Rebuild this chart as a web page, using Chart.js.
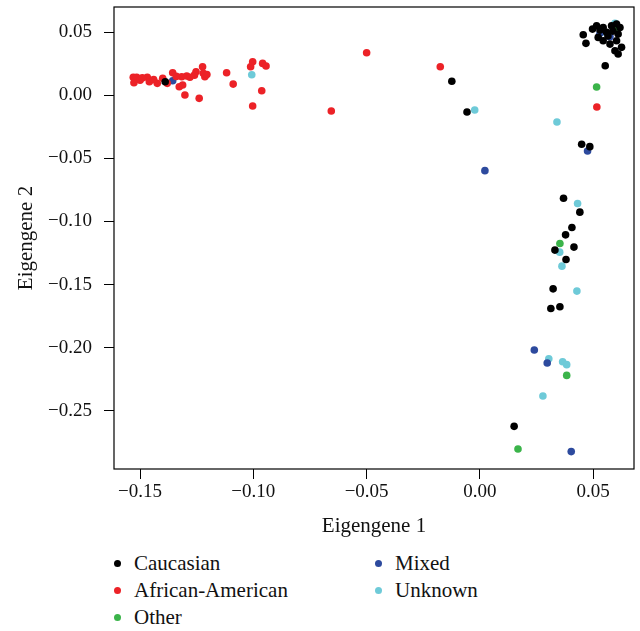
<!DOCTYPE html>
<html>
<head>
<meta charset="utf-8">
<script src="https://cdn.jsdelivr.net/npm/chart.js@4.4.1/dist/chart.umd.min.js"></script>
<style>
    html, body { margin: 0; padding: 0; background: #fff; }
    #wrap { position: relative; width: 640px; height: 631px; }
    #chart-box { position: absolute; left: 0; top: 0; width: 640px; height: 545px; }
    #legend { position: absolute; left: 0; top: 550px; width: 640px; height: 81px; font-family: "Liberation Serif", serif; font-size: 21px; color: #111; }
    .legend__item { position: absolute; display: flex; align-items: center; height: 27px; white-space: nowrap; }
    .legend__dot { width: 7px; height: 7px; border-radius: 50%; margin-right: 13px; }
</style>
</head>
<body>
<div id="wrap">
    <div id="chart-box"><canvas id="chart"></canvas></div>
    <div id="legend"></div>
</div>
<script>
// points as [eigengene 1, eigengene 2]
const caucasian = [
    [-0.1389, 0.0108], [-0.0124, 0.0111], [-0.0057, -0.0132],
    [0.0456, 0.0480], [0.0468, 0.0412], [0.0497, 0.0525], [0.0515, 0.0551], [0.0544, 0.0538],
    [0.0559, 0.0499], [0.0581, 0.0551], [0.0603, 0.0565], [0.0618, 0.0538], [0.0610, 0.0485],
    [0.0603, 0.0432], [0.0574, 0.0406], [0.0544, 0.0432], [0.0522, 0.0459], [0.0596, 0.0353],
    [0.0610, 0.0327], [0.0625, 0.0380], [0.0530, 0.0517], [0.0565, 0.0470], [0.0587, 0.0509],
    [0.0553, 0.0234], [0.0449, -0.0388], [0.0485, -0.0407], [0.0369, -0.0816], [0.0441, -0.0926],
    [0.0406, -0.1048], [0.0378, -0.1106], [0.0415, -0.1203], [0.0331, -0.1227], [0.0380, -0.1302],
    [0.0323, -0.1534], [0.0313, -0.1690], [0.0353, -0.1676], [0.0151, -0.2624]
];
const africanAmerican = [
    [-0.1530, 0.0143], [-0.1515, 0.0143], [-0.1527, 0.0100], [-0.1468, 0.0143], [-0.1459, 0.0108],
    [-0.1424, 0.0095], [-0.1400, 0.0135], [-0.1380, 0.0095], [-0.1356, 0.0179], [-0.1316, 0.0147],
    [-0.1294, 0.0153], [-0.1280, 0.0143], [-0.1327, 0.0068], [-0.1312, 0.0082], [-0.1302, 0.0002],
    [-0.1253, 0.0187], [-0.1224, 0.0226], [-0.1214, 0.0147], [-0.1221, 0.0174], [-0.1239, -0.0024],
    [-0.1118, 0.0179], [-0.1089, 0.0089], [-0.1012, 0.0226], [-0.1003, 0.0266], [-0.0959, 0.0253],
    [-0.0944, 0.0232], [-0.0963, 0.0036], [-0.1003, -0.0085], [-0.0500, 0.0337], [-0.0175, 0.0226],
    [-0.0656, -0.0124], [0.0516, -0.0093], [-0.1500, 0.0120], [-0.1490, 0.0138], [-0.1440, 0.0125],
    [-0.1340, 0.0150], [-0.1260, 0.0160], [-0.1205, 0.0165]
];
const other = [
    [0.0515, 0.0066], [0.0596, 0.0530], [0.0353, -0.1175], [0.0383, -0.2220], [0.0168, -0.2803]
];
const mixed = [
    [-0.1356, 0.0116], [0.0022, -0.0597], [0.0530, 0.0491], [0.0574, 0.0464], [0.0475, -0.0441],
    [0.0240, -0.2019], [0.0297, -0.2122], [0.0403, -0.2824]
];
const unknown = [
    [-0.1007, 0.0163], [-0.0023, -0.0116], [0.0596, 0.0570], [0.0537, 0.0499], [0.0340, -0.0211],
    [0.0431, -0.0858], [0.0352, -0.1243], [0.0362, -0.1354], [0.0428, -0.1552], [0.0304, -0.2088],
    [0.0365, -0.2112], [0.0383, -0.2135], [0.0278, -0.2383]
];

const groupNames = ["Caucasian", "African-American", "Other", "Mixed", "Unknown"];
const groupColors = ["#000000", "#EC2227", "#3BB44A", "#2D4A9E", "#6ECAD8"];
const groupPoints = [caucasian, africanAmerican, other, mixed, unknown];

const xTicks = [-0.15, -0.10, -0.05, 0.00, 0.05];
const yTicks = [0.05, 0.00, -0.05, -0.10, -0.15, -0.20, -0.25];

const serif = "'Liberation Serif', serif";

function fmt(v) {
    const s = Math.abs(v).toFixed(2);
    return (v < -1e-9 ? "\u2212" : "") + s;
}

// R style box around the plot area
const boxPlugin = {
    id: "box",
    afterDraw(chart) {
        const { ctx, chartArea } = chart;
        ctx.save();
        ctx.strokeStyle = "#000";
        ctx.lineWidth = 1.2;
        ctx.strokeRect(chartArea.left, chartArea.top, chartArea.right - chartArea.left, chartArea.bottom - chartArea.top);
        ctx.restore();
    }
};

const datasets = groupNames.map((name, i) => ({
    label: name,
    data: groupPoints[i].map(p => ({ x: p[0], y: p[1] })),
    backgroundColor: groupColors[i],
    borderWidth: 0,
    pointRadius: 3.8,
    pointHoverRadius: 3.8
}));

new Chart(document.getElementById("chart"), {
    type: "scatter",
    data: { datasets },
    options: {
        responsive: true,
        maintainAspectRatio: false,
        animation: false,
        layout: { padding: { top: 7, right: 6, left: 0, bottom: 0 } },
        plugins: { legend: { display: false }, tooltip: { enabled: false } },
        scales: {
            x: {
                type: "linear",
                min: -0.1615,
                max: 0.068,
                afterBuildTicks: scale => { scale.ticks = xTicks.map(v => ({ value: v })); },
                afterFit: scale => {
                    scale.height = 76;
                    scale.paddingLeft = 0; scale.paddingRight = 0;
                },
                ticks: { color: "#111", font: { family: serif, size: 19 }, padding: 2, maxRotation: 0, callback: v => fmt(v) },
                grid: { drawOnChartArea: false, drawTicks: true, tickLength: 10, color: "#000", lineWidth: 1 },
                border: { display: false },
                title: { display: true, text: "Eigengene 1", color: "#111", font: { family: serif, size: 21 }, padding: { top: 0, bottom: 6 } }
            },
            y: {
                type: "linear",
                min: -0.2962,
                max: 0.070,
                afterBuildTicks: scale => { scale.ticks = yTicks.map(v => ({ value: v })); },
                afterFit: scale => {
                    scale.width = 114;
                    scale.paddingTop = 0; scale.paddingBottom = 0;
                },
                ticks: { color: "#111", font: { family: serif, size: 19 }, padding: 12, callback: v => fmt(v) },
                grid: { drawOnChartArea: false, drawTicks: true, tickLength: 10, color: "#000", lineWidth: 1 },
                border: { display: false },
                title: { display: true, text: "Eigengene 2", color: "#111", font: { family: serif, size: 21 }, padding: { top: 14, bottom: 0 } }
            }
        }
    },
    plugins: [boxPlugin]
});

// legend: two columns, filled top to bottom
const legend = document.getElementById("legend");
const columnLeft = [114, 375];
groupNames.forEach((name, i) => {
    const item = document.createElement("div");
    item.className = "legend__item";
    item.style.left = columnLeft[Math.floor(i / 3)] + "px";
    item.style.top = (i % 3) * 27 + "px";
    const dot = document.createElement("span");
    dot.className = "legend__dot";
    dot.style.background = groupColors[i];
    item.append(dot, document.createTextNode(name));
    legend.append(item);
});
</script>
</body>
</html>
